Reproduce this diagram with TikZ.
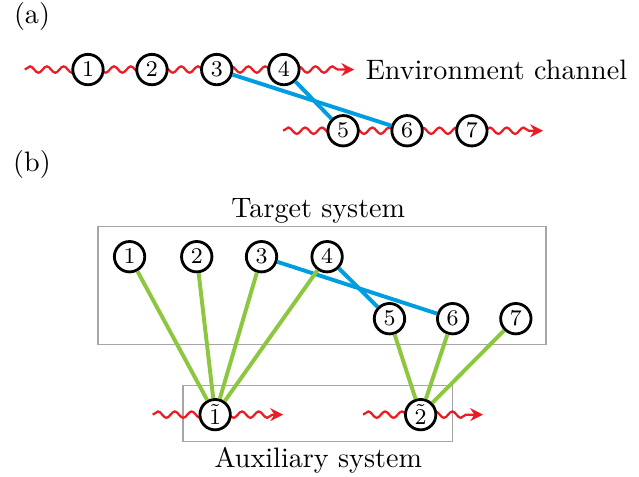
\documentclass[tikz,border=0pt]{standalone}
\usepackage{amsmath, amssymb}
\usepackage{xcolor}
\usetikzlibrary{decorations.pathmorphing, arrows.meta, positioning}
\definecolor{wavered}{RGB}{237,28,36}
\definecolor{linkblue}{RGB}{0,158,224}
\definecolor{linkgreen}{RGB}{141,198,63}
\begin{document}
\begin{tikzpicture}[
  site/.style={circle, draw, line width=1pt, fill=white, minimum size=0.38cm, inner sep=0pt, font=\footnotesize},
  wave/.style={wavered, line width=0.8pt, -{Stealth[length=1.6mm,width=1.6mm]},
    decorate, decoration={snake, amplitude=0.4mm, segment length=2.1mm, post length=1.2mm}},
  blueline/.style={linkblue, line width=1.4pt},
  greenline/.style={linkgreen, line width=1.4pt},
  frame/.style={draw=black!35, line width=0.5pt}
]
\useasboundingbox (0,0) rectangle (7.99,5.96);
\node (la) at (0.40,5.75) {(a)};
\node (lb) at (0.40,3.90) {(b)};
\coordinate (wa1) at (0.31,5.09);
\coordinate (wa2) at (4.43,5.09);
\coordinate (wb1) at (3.54,4.325);
\coordinate (wb2) at (6.79,4.325);
\draw[wave] (wa1) -- (wa2);
\draw[wave] (wb1) -- (wb2);
\node[site] (a1) at (1.10,5.09) {$1$};
\node[site] (a2) at (1.90,5.09) {$2$};
\node[site] (a3) at (2.71,5.09) {$3$};
\node[site] (a4) at (3.55,5.09) {$4$};
\node[site] (a5) at (4.29,4.325) {$5$};
\node[site] (a6) at (5.09,4.325) {$6$};
\node[site] (a7) at (5.90,4.325) {$7$};
\node[anchor=west] (env) at (4.45,5.09) {Environment channel};
\draw[blueline] (a3) -- (a6);
\draw[blueline] (a4) -- (a5);
\draw[frame] (1.225,1.65) rectangle (6.825,3.125);
\draw[frame] (2.29,0.4375) rectangle (5.66,1.1375);
\node (tgt) at (3.98,3.325) {Target system};
\node (aux) at (3.98,0.21) {Auxiliary system};
\coordinate (wc1) at (1.91,0.775);
\coordinate (wc2) at (3.54,0.775);
\coordinate (wd1) at (4.54,0.775);
\coordinate (wd2) at (6.04,0.775);
\draw[wave] (wc1) -- (wc2);
\draw[wave] (wd1) -- (wd2);
\node[site] (b1) at (1.62,2.75) {$1$};
\node[site] (b2) at (2.46,2.75) {$2$};
\node[site] (b3) at (3.27,2.75) {$3$};
\node[site] (b4) at (4.09,2.75) {$4$};
\node[site] (b5) at (4.87,1.975) {$5$};
\node[site] (b6) at (5.66,1.975) {$6$};
\node[site] (b7) at (6.45,1.975) {$7$};
\node[site] (c1) at (2.69,0.775) {$\tilde{1}$};
\node[site] (c2) at (5.26,0.775) {$\tilde{2}$};
\draw[blueline] (b3) -- (b6);
\draw[blueline] (b4) -- (b5);
\foreach \i in {1,2,3,4} \draw[greenline] (b\i) -- (c1);
\foreach \i in {5,6,7} \draw[greenline] (b\i) -- (c2);
\end{tikzpicture}
\end{document}
